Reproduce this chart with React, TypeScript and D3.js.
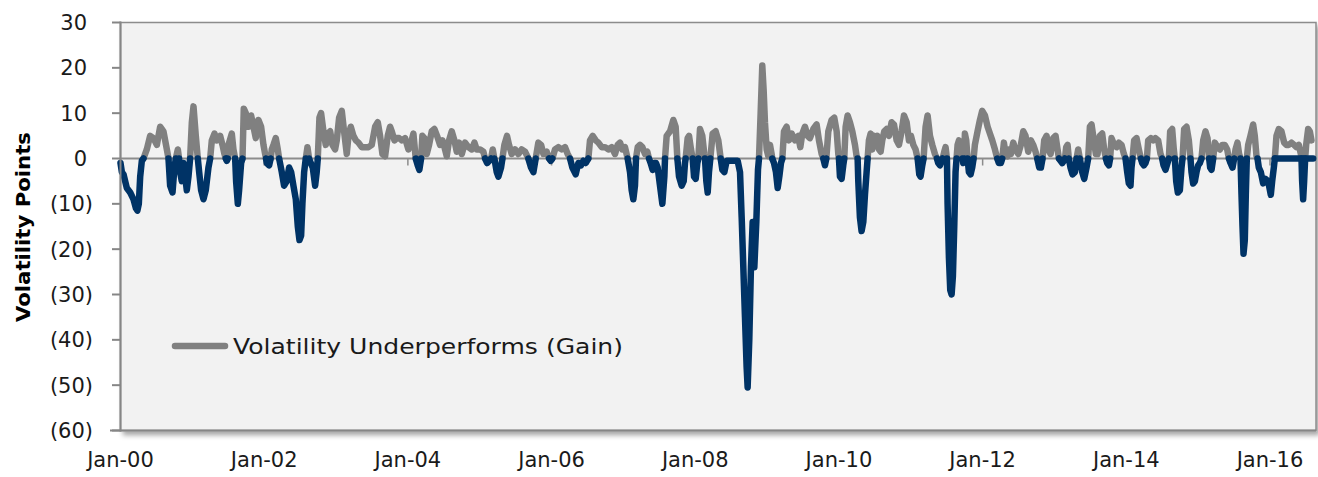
import { useEffect, useRef } from 'react'
import * as d3 from 'd3'

// x = years since Jan-2000, y = volatility points (gain > 0, loss < 0)
const volPoints: [number, number][] = [
  [0.000,-1],[0.019,-3],[0.042,-3.5],[0.088,-6.5],[0.135,-7.5],[0.181,-9],[0.215,-11],[0.235,-11.5],[0.255,-10],[0.274,-4],[0.297,-0.5],[0.320,0],
  [0.366,2],[0.413,5],[0.459,4.5],[0.506,3],[0.552,7],[0.598,6],[0.645,2],[0.668,0],[0.691,-6],[0.724,-7.5],[0.751,-2],[0.770,0],[0.798,2],[0.815,0],
  [0.830,-3],[0.853,-5],[0.877,-1],[0.900,-4],[0.923,-7],[0.946,-4],[0.969,0],[0.993,8],[1.016,11.5],[1.048,5],[1.076,0],[1.095,-3],[1.122,-7],
  [1.155,-9],[1.187,-7],[1.224,-2],[1.248,0],[1.271,4],[1.308,5.5],[1.340,4],[1.387,5],[1.419,3],[1.447,1],[1.465,0],[1.480,-0.5],[1.492,0],
  [1.503,3],[1.549,5.5],[1.572,2],[1.596,0],[1.609,-5],[1.633,-10],[1.651,-7],[1.679,-1],[1.698,0],[1.716,11],[1.744,10],[1.781,7],[1.818,9.5],
  [1.851,7],[1.883,4.5],[1.920,8.5],[1.957,7],[1.990,3],[2.013,1],[2.025,0],[2.036,-1],[2.069,-1.5],[2.090,0],[2.106,2],[2.129,3],[2.161,4.5],
  [2.189,2],[2.208,0],[2.245,-3],[2.277,-6],[2.314,-5],[2.347,-2],[2.375,-3],[2.407,-6],[2.440,-9],[2.468,-15],[2.491,-18],[2.514,-17],[2.532,-10],
  [2.556,-3],[2.579,0],[2.602,2.5],[2.625,0],[2.648,-1],[2.676,-2],[2.709,-6],[2.731,-3],[2.746,0],[2.769,9],[2.792,10],[2.825,6],[2.857,3],
  [2.885,5.5],[2.918,6],[2.950,3],[2.987,2],[3.010,4],[3.043,9],[3.080,10.5],[3.112,6],[3.149,1],[3.173,5],[3.205,7],[3.242,5],[3.275,4],[3.312,3.5],
  [3.358,2.5],[3.404,2.5],[3.451,2.5],[3.497,3],[3.544,7],[3.581,8],[3.613,5],[3.646,1],[3.683,0.5],[3.720,5],[3.752,7],[3.776,6],[3.813,4],
  [3.845,4.5],[3.878,4.5],[3.915,4],[3.961,4.5],[4.007,2],[4.045,3.5],[4.077,5.5],[4.109,0],[4.137,-1.5],[4.160,-2.5],[4.184,0],[4.202,5],
  [4.230,4.5],[4.263,1],[4.295,3],[4.332,6],[4.369,6.5],[4.406,5],[4.448,3],[4.481,4],[4.509,2.5],[4.541,0.5],[4.573,4],[4.610,6],[4.648,4],
  [4.680,1.5],[4.712,3.5],[4.750,1],[4.796,3.5],[4.842,2.5],[4.889,2],[4.926,3.5],[4.958,2],[5.005,2],[5.051,1.5],[5.074,0],[5.102,-1],[5.135,-0.5],
  [5.158,0],[5.181,2],[5.204,0],[5.237,-3],[5.260,-4],[5.297,-2],[5.316,0],[5.343,3],[5.380,5],[5.408,3],[5.445,1],[5.492,2],[5.538,1],[5.584,2],
  [5.631,1.5],[5.677,0],[5.714,-2],[5.747,-3],[5.779,0],[5.816,3.5],[5.854,3],[5.886,1],[5.932,1.5],[5.965,0],[5.988,-0.5],[6.011,0],[6.048,2],
  [6.095,2.5],[6.141,2],[6.187,2.5],[6.224,1],[6.257,0],[6.289,-2],[6.336,-3.5],[6.373,-1],[6.410,-1.5],[6.443,-0.5],[6.475,-1],[6.512,0],[6.535,4],
  [6.572,5],[6.614,4],[6.651,3.5],[6.698,2.5],[6.744,2.5],[6.790,2],[6.837,2.5],[6.883,1],[6.920,3],[6.953,3.5],[6.985,2],[7.022,2.5],[7.059,0],
  [7.092,-3],[7.115,-7],[7.138,-9],[7.161,-6],[7.175,0],[7.199,2.5],[7.231,3],[7.264,2.5],[7.301,1],[7.333,1.5],[7.356,0],[7.379,-1],[7.407,-2.5],
  [7.431,-1],[7.454,-1],[7.477,-2],[7.509,-6],[7.542,-10],[7.570,-4],[7.579,0],[7.602,5],[7.649,6],[7.695,8.5],[7.727,7],[7.751,0],[7.774,-4],
  [7.811,-6],[7.839,-5],[7.857,-1],[7.866,0],[7.894,4.5],[7.913,5],[7.941,2],[7.964,0],[7.983,-4],[8.006,-4.5],[8.029,-1],[8.043,0],[8.066,6.5],
  [8.098,5],[8.126,1],[8.135,0],[8.154,-5],[8.173,-7.5],[8.191,-3],[8.210,0],[8.242,5.5],[8.284,6],[8.321,4],[8.354,0],[8.377,-2.5],[8.405,-3],
  [8.437,-0.5],[8.484,-0.5],[8.530,-0.5],[8.563,-0.5],[8.590,-0.5],[8.623,-3],[8.646,-13],[8.669,-24],[8.692,-35],[8.715,-46],[8.729,-50.5],
  [8.752,-40],[8.775,-24],[8.799,-14],[8.822,-24],[8.850,-14],[8.873,-2.5],[8.887,0],[8.910,10],[8.933,20.5],[8.952,15],[8.970,8],[8.994,2],
  [9.017,0.5],[9.040,3],[9.063,1],[9.072,0],[9.096,-1],[9.123,-3],[9.147,-6.5],[9.170,-4],[9.193,-1],[9.212,0],[9.235,6],[9.272,7],[9.304,4],
  [9.341,5.5],[9.388,4],[9.434,5],[9.462,2.5],[9.490,5.5],[9.527,7],[9.564,5],[9.596,4.5],[9.643,6.5],[9.689,7.5],[9.722,4],[9.759,1],[9.782,0],
  [9.805,-1.5],[9.824,0],[9.852,6],[9.898,8.5],[9.935,9],[9.968,6],[9.991,1],[10.000,0],[10.014,-4],[10.037,-4.5],[10.060,-1.5],[10.074,0],
  [10.093,7],[10.121,9.5],[10.153,8],[10.186,6],[10.223,3],[10.246,0.5],[10.260,0],[10.269,-5],[10.292,-13],[10.315,-16],[10.339,-14],[10.362,-8],
  [10.385,-3],[10.399,0],[10.417,4],[10.441,5.5],[10.464,2],[10.487,5],[10.510,4],[10.534,5],[10.557,2],[10.580,1.5],[10.603,4],[10.631,6],
  [10.664,6.5],[10.696,5],[10.733,8],[10.766,7.5],[10.803,4],[10.835,3],[10.872,6],[10.905,9.5],[10.942,8],[10.974,4],[11.002,5],[11.035,3],
  [11.067,2],[11.095,0],[11.118,-3.5],[11.136,-4],[11.160,-1.5],[11.178,0],[11.206,7],[11.234,9.5],[11.267,5],[11.299,3],[11.336,1],[11.364,0],
  [11.382,-1],[11.406,-1.5],[11.429,-0.5],[11.443,0],[11.466,1.5],[11.484,2.5],[11.503,0],[11.512,-10],[11.531,-22],[11.549,-29],[11.568,-30],
  [11.586,-26],[11.605,-15],[11.623,-3],[11.637,0],[11.651,3],[11.670,4],[11.698,2],[11.721,0],[11.730,-1],[11.744,0],[11.753,5.5],[11.772,4],
  [11.790,0],[11.809,-3],[11.832,-3.5],[11.855,-2],[11.874,0],[11.892,3],[11.929,6],[11.962,8.5],[11.994,10.5],[12.032,9.5],[12.069,7],[12.101,5.5],
  [12.134,4],[12.171,2],[12.203,0],[12.226,-1],[12.254,-1],[12.273,0],[12.296,3.5],[12.319,1],[12.347,0.5],[12.365,2],[12.393,1],[12.426,3.5],
  [12.458,2],[12.495,1],[12.532,3],[12.565,6],[12.597,5],[12.635,1.5],[12.672,4],[12.704,3],[12.737,1.5],[12.760,0],[12.788,-2],[12.811,-2],
  [12.834,0],[12.857,4],[12.890,5],[12.913,2],[12.946,1],[12.983,4.5],[13.015,5],[13.043,2],[13.062,0],[13.085,-0.5],[13.108,-1],[13.131,-0.5],
  [13.145,0],[13.163,2.5],[13.182,3],[13.200,0],[13.223,-2],[13.251,-3.5],[13.284,-3],[13.307,0],[13.330,2],[13.353,0],[13.386,-3],[13.414,-4.5],
  [13.446,-2],[13.469,0],[13.493,7],[13.516,7.5],[13.548,4],[13.576,1],[13.599,1],[13.631,5],[13.664,5.5],[13.692,2],[13.715,0],[13.734,-1],
  [13.757,-1.5],[13.775,0],[13.794,4.5],[13.831,3],[13.864,2.5],[13.896,3.5],[13.933,3],[13.966,1],[13.989,0],[14.012,-3],[14.035,-5.5],[14.058,-6],
  [14.072,-2],[14.086,0],[14.109,4],[14.142,4.5],[14.174,2],[14.202,0],[14.221,-1],[14.244,-1.5],[14.267,-1],[14.286,0],[14.304,4],[14.341,4.5],
  [14.374,4],[14.406,4.5],[14.443,4],[14.476,1],[14.499,0],[14.518,-1.5],[14.545,-2.5],[14.573,-1],[14.592,0],[14.610,6],[14.638,6.5],[14.661,2],
  [14.675,0],[14.694,-5],[14.717,-7.5],[14.745,-7],[14.768,-2],[14.782,0],[14.805,6.5],[14.838,7],[14.870,4],[14.893,0],[14.907,-3],[14.930,-5.5],
  [14.954,-5],[14.977,-3],[15.000,-1.5],[15.023,-1],[15.046,0],[15.070,4],[15.102,6],[15.130,4.5],[15.153,0],[15.167,-2],[15.186,-2.5],[15.209,0],
  [15.232,3.5],[15.269,2.5],[15.302,2],[15.334,3],[15.371,3],[15.404,2],[15.427,0],[15.450,-1],[15.478,-2],[15.501,0],[15.520,2],[15.547,3.5],
  [15.570,1],[15.589,0],[15.603,-8],[15.617,-15],[15.631,-21],[15.649,-18],[15.663,-8],[15.677,0],[15.696,3],[15.728,5],[15.765,7.5],[15.788,5],
  [15.812,0.5],[15.826,0],[15.844,-2],[15.872,-3],[15.904,-5.5],[15.937,-4.5],[15.974,-5],[16.011,-8],[16.030,-5],[16.053,-2],[16.067,0],[16.090,5],
  [16.122,6.5],[16.159,6],[16.197,3.5],[16.229,3],[16.262,3],[16.299,3.5],[16.336,3],[16.368,2.5],[16.401,3],[16.429,1],[16.438,0],[16.447,-5],
  [16.461,-9],[16.475,-5],[16.489,0],[16.503,3],[16.531,6.5],[16.554,6],[16.577,4],
]

// loss series sits flat on zero at the end of the period
const flatLoss: [number, number][] = [[16.067, 0], [16.6, 0]]

const yTicks = [30, 20, 10, 0, -10, -20, -30, -40, -50, -60]
const xTicks = [0, 2, 4, 6, 8, 10, 12, 14, 16]
const xTickLabels = ['Jan-00', 'Jan-02', 'Jan-04', 'Jan-06', 'Jan-08', 'Jan-10', 'Jan-12', 'Jan-14', 'Jan-16']

const FONT = "'Century Gothic', 'DejaVu Sans', sans-serif"

export default function App() {
  const ref = useRef<SVGSVGElement>(null)

  useEffect(() => {
    const svg = d3.select(ref.current)
    svg.selectAll('*').remove()
    const left = 120.5
    const right = 1316
    const top = 22.5
    const bottom = 430.5

    const x = d3.scaleLinear().domain([0, 16.64]).range([left, right])
    const y = d3.scaleLinear().domain([-60, 30]).range([bottom, top])

    const defs = svg.append('defs')
    const f = defs.append('filter').attr('id', 'shadow').attr('x', '-5%').attr('y', '-5%').attr('width', '110%').attr('height', '115%')
    f.append('feDropShadow').attr('dx', 3).attr('dy', 4).attr('stdDeviation', 2.5).attr('flood-color', '#000').attr('flood-opacity', 0.35)

    // plot area
    svg.append('rect')
      .attr('x', left).attr('y', top)
      .attr('width', right - left).attr('height', bottom - top)
      .attr('fill', '#f2f2f2')
      .attr('stroke', '#8c8c8c')
      .attr('stroke-width', 1.5)
      .attr('filter', 'url(#shadow)')

    // zero line + ticks on it
    svg.append('line')
      .attr('x1', left).attr('x2', right)
      .attr('y1', y(0)).attr('y2', y(0))
      .attr('stroke', '#8c8c8c').attr('stroke-width', 2)
    svg.selectAll('line.xt')
      .data(xTicks)
      .enter()
      .append('line')
      .attr('class', 'xt')
      .attr('x1', d => x(d)).attr('x2', d => x(d))
      .attr('y1', y(0)).attr('y2', y(0) + 7)
      .attr('stroke', '#8c8c8c').attr('stroke-width', 1.5)

    // gain (gray) and loss (navy)
    const gainLine = d3.line<[number, number]>().defined(d => d[1] >= 0).x(d => x(d[0])).y(d => y(d[1]))
    const lossLine = d3.line<[number, number]>().defined(d => d[1] <= 0).x(d => x(d[0])).y(d => y(d[1]))

    const lineStyle = (sel: any, color: string) =>
      sel.attr('fill', 'none').attr('stroke', color).attr('stroke-width', 6.5)
        .attr('stroke-linejoin', 'round').attr('stroke-linecap', 'round')

    lineStyle(svg.append('path').attr('d', gainLine(volPoints)), '#808080')
    lineStyle(svg.append('path').attr('d', lossLine(flatLoss)), '#003366')
    lineStyle(svg.append('path').attr('d', lossLine(volPoints)), '#003366')

    // axes
    svg.append('line')
      .attr('x1', left).attr('x2', left).attr('y1', top - 1).attr('y2', bottom + 1)
      .attr('stroke', '#868686').attr('stroke-width', 2)
    svg.append('line')
      .attr('x1', 110).attr('x2', right).attr('y1', bottom).attr('y2', bottom)
      .attr('stroke', '#868686').attr('stroke-width', 2)
    svg.selectAll('line.yt')
      .data(yTicks)
      .enter()
      .append('line')
      .attr('class', 'yt')
      .attr('x1', 112).attr('x2', left)
      .attr('y1', d => y(d)).attr('y2', d => y(d))
      .attr('stroke', '#868686').attr('stroke-width', 2)

    svg.selectAll('text.yl')
      .data(yTicks)
      .enter()
      .append('text')
      .attr('class', 'yl')
      .attr('x', d => (d < 0 ? 93 : 87))
      .attr('y', d => y(d) + 7.5)
      .attr('text-anchor', 'end')
      .attr('font-family', FONT)
      .attr('font-size', 21)
      .attr('fill', '#1a1a1a')
      .text(d => (d < 0 ? `(${-d})` : `${d}`))

    svg.selectAll('text.xl')
      .data(xTicks)
      .enter()
      .append('text')
      .attr('class', 'xl')
      .attr('x', d => x(d))
      .attr('y', 467)
      .attr('text-anchor', 'middle')
      .attr('font-family', FONT)
      .attr('font-size', 21)
      .attr('fill', '#1a1a1a')
      .text((d, i) => xTickLabels[i])

    svg.append('text')
      .attr('transform', 'translate(30,227) rotate(-90)')
      .attr('text-anchor', 'middle')
      .attr('font-family', FONT)
      .attr('font-size', 19)
      .attr('font-weight', 'bold')
      .attr('fill', '#000')
      .attr('textLength', 190)
      .attr('lengthAdjust', 'spacingAndGlyphs')
      .text('Volatility Points')

    // legend
    svg.append('line')
      .attr('x1', 175).attr('x2', 225).attr('y1', 346).attr('y2', 346)
      .attr('stroke', '#808080').attr('stroke-width', 6.5).attr('stroke-linecap', 'round')
    svg.append('text')
      .attr('x', 233).attr('y', 354)
      .attr('font-family', FONT)
      .attr('font-size', 21)
      .attr('fill', '#1a1a1a')
      .attr('textLength', 390)
      .attr('lengthAdjust', 'spacingAndGlyphs')
      .text('Volatility Underperforms (Gain)')
  }, [])

  return <svg ref={ref} width={1318} height={477} style={{ position: 'absolute', left: 0, top: 0, background: '#fff' }} />
}
